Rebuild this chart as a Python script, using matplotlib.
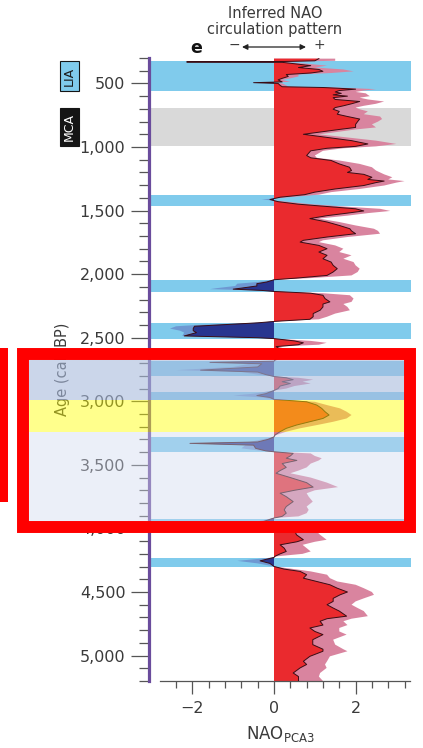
import matplotlib
matplotlib.use("Agg")
import matplotlib.pyplot as plt
import matplotlib.transforms as mtransforms
from matplotlib.patches import Rectangle
from matplotlib.ticker import MultipleLocator, FixedLocator, FuncFormatter
import numpy as np

W, H = 423, 748

# ── Serie NAO (edad cal. BP, valor central, envolvente) ───────────────────
age_bp = [
    305, 322, 328, 331, 334, 345, 360, 375, 390, 405,
    418, 430, 445, 460, 472, 488, 494, 500, 515, 526,
    532, 545, 556, 567, 578, 590, 600, 612, 626, 642,
    660, 676, 690, 703, 720, 742, 760, 780, 800, 822,
    846, 862, 875, 888, 900,
    925, 950, 976, 995, 1010, 1030, 1067, 1085, 1106, 1133,
    1159, 1185, 1200, 1215, 1238, 1255, 1268, 1280, 1303, 1330,
    1355, 1375, 1395, 1413, 1430, 1450, 1468, 1486, 1503, 1520,
    1540, 1563,
    1590, 1617, 1643, 1660, 1682, 1708, 1734, 1748, 1774, 1800,
    1826, 1852, 1879, 1905, 1931, 1957, 1983, 2010, 2031, 2044,
    2062, 2075, 2093, 2110, 2118, 2128, 2136,
    2150, 2166, 2192, 2218, 2235, 2258, 2284, 2310, 2335, 2355,
    2372, 2383, 2400, 2410, 2428, 2445, 2460, 2486, 2500, 2507,
    2525, 2540, 2555, 2570, 2600, 2650, 2685, 2694, 2705, 2730,
    2755, 2770, 2790, 2805, 2815, 2830, 2846, 2860, 2880, 2900,
    2915, 2940, 2955, 2970, 2985,
    3004, 3030, 3056, 3082, 3108, 3135, 3161, 3187, 3213, 3239,
    3266, 3280, 3300, 3320, 3331, 3345, 3370, 3390, 3397, 3410,
    3430, 3448, 3465, 3490, 3520, 3545, 3566, 3600, 3640, 3675,
    3700, 3723, 3750, 3789, 3828, 3854, 3880, 3905, 3918, 3950,
    3985,
    4010, 4050, 4089, 4105, 4129, 4155, 4181, 4200, 4220, 4228,
    4255, 4275, 4299, 4320, 4338, 4364, 4391, 4417, 4443, 4470,
    4500, 4522, 4550, 4574, 4600, 4626, 4650, 4690, 4710, 4730,
    4760, 4783, 4810, 4835, 4875, 4914, 4950, 4966, 5006, 5045,
    5070, 5097, 5137, 5165, 5200,
]
nao = [
    1.1, 1.0, 0.2, -2.14, 0.2, 0.5, 0.9, 0.6, 1.1, 1.2,
    0.9, 0.3, 0.35, 0.2, 0.1, 0.2, -0.5, 0.1, 0.15, 0.2,
    1.2, 2.0, 1.6, 1.5, 1.65, 1.45, 1.8, 1.45, 1.5, 2.1,
    1.9, 1.7, 1.5, 1.45, 1.6, 1.55, 1.8, 2.1, 2.05, 2.0,
    2.0, 1.6, 1.3, 1.0, 0.72,
    1.3, 1.9, 2.3, 2.0, 1.3, 0.9, 0.8, 0.9, 1.4, 1.6,
    1.85, 1.9, 1.8, 2.2, 2.4, 2.3, 2.7, 2.5, 2.2, 1.5,
    1.0, 0.75, 0.15, -0.1, 0.1, 0.6, 1.3, 2.0, 2.2, 1.8,
    1.3, 0.88,
    1.3, 1.6, 1.86, 1.9, 2.0, 1.3, 0.72, 0.64, 1.1, 1.3,
    1.1, 1.3, 1.2, 1.4, 1.45, 1.55, 1.45, 1.3, 0.55, 0.0,
    -0.18, -0.42, -0.42, -0.8, -1.0, -0.3, 0.0,
    0.9, 1.2, 1.25, 1.37, 1.2, 1.2, 1.13, 0.96, 0.96, 0.88,
    0.0, -0.4, -1.4, -1.95, -1.98, -1.98, -1.9, -2.2, -0.4, 0.0,
    0.5, 0.72, 0.6, 0.05, 0.2, 0.1, 0.0, -1.57, -0.3, -0.4,
    -1.8, -0.4, -0.2, 0.0, 0.3, 0.47, 0.2, 0.4, 0.15, 0.1,
    0.0, -0.2, -0.42, -0.1, 0.0,
    0.8, 1.05, 1.17, 1.25, 1.35, 1.2, 0.88, 0.55, 0.3, 0.15,
    0.02, 0.0, -0.15, -0.4, -2.06, -0.5, -0.45, -0.2, 0.0, 0.47,
    0.4, 0.3, 0.56, 0.2, 0.3, 0.15, 0.05, 0.4, 0.8, 0.96,
    0.5, 0.15, 0.3, 0.47, 0.3, 0.25, 0.3, 0.2, 0.0, -0.3,
    0.0,
    0.5, 0.55, 0.72, 0.56, 0.15, 0.25, 0.3, 0.15, 0.02, 0.0,
    -0.34, -0.1, 0.0, 0.25, 0.64, 0.8, 0.72, 1.05, 1.37, 1.55,
    1.8, 1.62, 1.45, 1.45, 1.3, 1.45, 1.6, 1.78, 1.3, 1.13,
    1.2, 0.88, 1.0, 1.2, 0.95, 0.95, 1.2, 1.2, 0.88, 0.72,
    0.8, 0.64, 0.47, 0.6, 0.6,
]
nao_env = [
    1.5, 1.5, 0.4, -2.2, 0.3, 0.8, 1.3, 1.0, 1.7, 1.95,
    1.4, 0.6, 0.6, 0.4, 0.2, 0.4, -0.6, 0.2, 0.3, 0.35,
    1.5, 2.5, 2.2, 2.0, 2.25, 2.3, 2.35, 2.1, 2.3, 2.7,
    2.5, 2.2, 2.0, 2.1, 2.3, 2.2, 2.6, 2.65, 2.55, 2.4,
    2.5, 2.0, 1.7, 1.4, 1.1,
    1.8, 2.5, 3.0, 2.5, 1.7, 1.2, 1.0, 1.05, 1.6, 2.1,
    2.4, 2.5, 2.6, 2.7, 2.9, 2.8, 3.2, 3.0, 2.7, 2.1,
    1.4, 1.1, 0.35, -0.3, 0.3, 0.9, 1.7, 2.6, 2.85, 2.3,
    1.8, 1.1,
    1.6, 2.0, 2.45, 2.55, 2.6, 1.8, 1.2, 1.1, 1.5, 1.7,
    1.6, 1.9, 1.7, 1.95, 2.0, 2.1, 2.05, 1.9, 0.9, 0.0,
    -0.4, -0.9, -0.95, -1.4, -1.57, -0.5, 0.0,
    1.2, 1.86, 1.95, 1.9, 1.7, 1.8, 1.86, 1.5, 1.3, 1.1,
    0.0, -0.5, -1.9, -2.4, -2.55, -2.3, -2.2, -2.25, -0.5, 0.0,
    0.9, 1.29, 1.1, 0.1, 0.4, 0.3, 0.0, -1.7, -0.6, -1.0,
    -2.4, -0.8, -0.4, 0.0, 0.6, 0.96, 0.7, 0.9, 0.5, 0.3,
    0.0, -0.5, -1.0, -0.3, 0.0,
    1.0, 1.3, 1.62, 1.78, 1.9, 1.78, 1.45, 1.05, 0.63, 0.3,
    0.05, 0.0, -0.3, -0.6, -2.1, -0.7, -0.8, -0.3, 0.0, 0.9,
    1.0, 1.17, 1.1, 0.9, 0.8, 0.6, 0.4, 0.9, 1.3, 1.57,
    1.0, 0.8, 0.85, 0.95, 0.8, 0.85, 0.8, 0.6, 0.0, -0.5,
    0.0,
    1.0, 1.13, 1.29, 1.0, 0.7, 0.8, 0.9, 0.7, 0.05, 0.0,
    -0.9, -0.4, 0.0, 0.5, 0.9, 1.3, 1.37, 1.55, 2.0, 2.2,
    2.4, 2.45, 2.2, 2.0, 1.9, 2.05, 2.2, 2.3, 1.9, 1.7,
    1.8, 1.6, 1.6, 1.78, 1.45, 1.5, 1.7, 1.8, 1.37, 1.3,
    1.25, 1.29, 1.13, 1.1, 1.2,
]
assert len(age_bp) == len(nao) == len(nao_env)

# ── Periodos ──────────────────────────────────────────────────────────────
neg_band_lo = [325, 1380, 2045, 2385, 2687, 2928, 3283, 3922, 4232]
neg_band_hi = [562, 1467, 2140, 2508, 2805, 2988, 3400, 3990, 4306]
lia = (325, 562)
mca = (692, 995)

# marcas del resaltado (años)
hl_blue = (2679, 2989)
hl_yellow = (2989, 3244)
hl_pale = (3244, 3947)

y_major = 500
y_minor = 100
x_major = [-2, 0, 2]
x_minor = [-2.4, -1.6, -1.2, -0.8, -0.4, 0.4, 0.8, 1.2, 1.6, 2.4, 2.8, 3.2]

BAND_BLUE = "#80cbec"
MCA_GREY = "#d9d9d9"
RED = "#ea2a2e"
PINK = "#d9849f"
NAVY = "#28358f"
LIGHT_NAVY = "#6e98d2"
LINE = "#3a0c14"
PURPLE = "#6a4c9c"
TXT = "#3a3a3a"


def fig_px(x0, y0, x1, y1):
    """Caja en pixeles (origen arriba a la izquierda) -> fracción de figura."""
    return (x0 / W, 1 - y1 / H), (x1 - x0) / W, (y1 - y0) / H


fig = plt.figure(figsize=(W / 100, H / 100), dpi=100)
ax = fig.add_axes([149 / W, 1 - 681 / H, 262 / W, 623 / H])
ax.set_xlim(-3.064, 3.358)
ax.set_ylim(5200, 300)

for lo, hi in zip(neg_band_lo, neg_band_hi):
    ax.axhspan(lo, hi, color=BAND_BLUE, lw=0, zorder=0)
ax.axhspan(*mca, color=MCA_GREY, lw=0, zorder=0)

a = np.array(age_bp, float)
n = np.array(nao, float)
e = np.array(nao_env, float)
ax.fill_betweenx(a, e, 0, where=e >= 0, interpolate=True, color=PINK, lw=0, zorder=1)
ax.fill_betweenx(a, e, 0, where=e <= 0, interpolate=True, color=LIGHT_NAVY, lw=0, zorder=1)
ax.fill_betweenx(a, n, 0, where=n >= 0, interpolate=True, color=RED, lw=0, zorder=2)
ax.fill_betweenx(a, n, 0, where=n <= 0, interpolate=True, color=NAVY, lw=0, zorder=2)
ax.plot(n, a, color=LINE, lw=0.7, zorder=3)

# ── Ejes ──────────────────────────────────────────────────────────────────
for s in ("top", "right"):
    ax.spines[s].set_visible(False)
ax.spines["left"].set_color(PURPLE)
ax.spines["left"].set_linewidth(2.3)
ax.spines["left"].set_zorder(4)
ax.spines["bottom"].set_bounds(-2.79, 3.33)
ax.spines["bottom"].set_color("#555555")
ax.spines["bottom"].set_linewidth(0.9)

ax.yaxis.set_major_locator(MultipleLocator(y_major))
ax.yaxis.set_minor_locator(MultipleLocator(y_minor))
ax.yaxis.set_major_formatter(FuncFormatter(lambda v, p: f"{int(v):,}"))
ax.tick_params(axis="y", which="major", length=13, width=0.9, color="#555555",
               pad=4, labelsize=11.5, labelcolor=TXT)
ax.tick_params(axis="y", which="minor", length=7.5, width=0.9, color="#555555")

ax.xaxis.set_major_locator(FixedLocator(x_major))
ax.xaxis.set_minor_locator(FixedLocator(x_minor))
ax.tick_params(axis="x", which="major", length=9.5, width=0.9, color="#555555",
               pad=5, labelsize=11.5, labelcolor=TXT)
ax.tick_params(axis="x", which="minor", length=4.8, width=0.9, color="#555555")
ax.set_xlabel(r"NAO$_{\mathrm{PCA3}}$", fontsize=12, color=TXT, labelpad=6)

ax.set_ylabel("Age (cal. BP)", fontsize=10.5, color=TXT)
ax.yaxis.set_label_coords(-0.30, 0.5)

# cajas LIA / MCA alineadas con los años
blend = mtransforms.blended_transform_factory(fig.transFigure, ax.transData)
for (lo, hi), face, label, tc in ((lia, BAND_BLUE, "LIA", "#1a1a1a"),
                                  (mca, "#151515", "MCA", "white")):
    ax.add_patch(Rectangle((60 / W, lo), 19 / W, hi - lo, transform=blend,
                           facecolor=face, edgecolor="#151515", lw=0.8,
                           clip_on=False, zorder=5))
    ax.text(69.5 / W, (lo + hi) / 2, label, transform=blend, rotation=90,
            ha="center", va="center", fontsize=9, color=tc, clip_on=False,
            zorder=6)

# ── Encabezado ────────────────────────────────────────────────────────────
fig.text(275 / W, 1 - 18 / H, "Inferred NAO", ha="center", va="baseline",
         fontsize=10.5, color=TXT)
fig.text(275 / W, 1 - 34 / H, "circulation pattern", ha="center", va="baseline",
         fontsize=10.5, color=TXT)
fig.text(196 / W, 1 - 53 / H, "e", ha="center", va="baseline",
         fontsize=12.5, fontweight="bold", color="#111111")
fig.text(234 / W, 1 - 49 / H, "\u2212", ha="center", va="baseline",
         fontsize=10, color=TXT)
fig.text(319 / W, 1 - 49 / H, "+", ha="center", va="baseline",
         fontsize=10, color=TXT)
ax.annotate("", xy=(306 / W, 1 - 47 / H), xytext=(242 / W, 1 - 47 / H),
            xycoords="figure fraction", textcoords="figure fraction",
            arrowprops=dict(arrowstyle="<|-|>", color="#222222", lw=0.9,
                            mutation_scale=8, shrinkA=0, shrinkB=0))

# ── Resaltado superpuesto ─────────────────────────────────────────────────
for (lo, hi), col, alpha in ((hl_blue, "#a9bbdd", 0.6),
                             (hl_yellow, "#ffff05", 0.46),
                             (hl_pale, "#d1d9ef", 0.42)):
    fig.add_artist(Rectangle((29 / W, lo), 375 / W, hi - lo, transform=blend,
                             facecolor=col, alpha=alpha, lw=0, zorder=10))

xy, w, h = fig_px(23, 354, 410, 527)
fig.add_artist(Rectangle(xy, w, h, transform=fig.transFigure, fill=False,
                         edgecolor="#ff0000", lw=8.6, joinstyle="miter", zorder=11))
xy, w, h = fig_px(0, 348, 8.3, 502)
fig.add_artist(Rectangle(xy, w, h, transform=fig.transFigure,
                         facecolor="#ff0000", lw=0, zorder=11))

fig.savefig("out.png", dpi=100)
